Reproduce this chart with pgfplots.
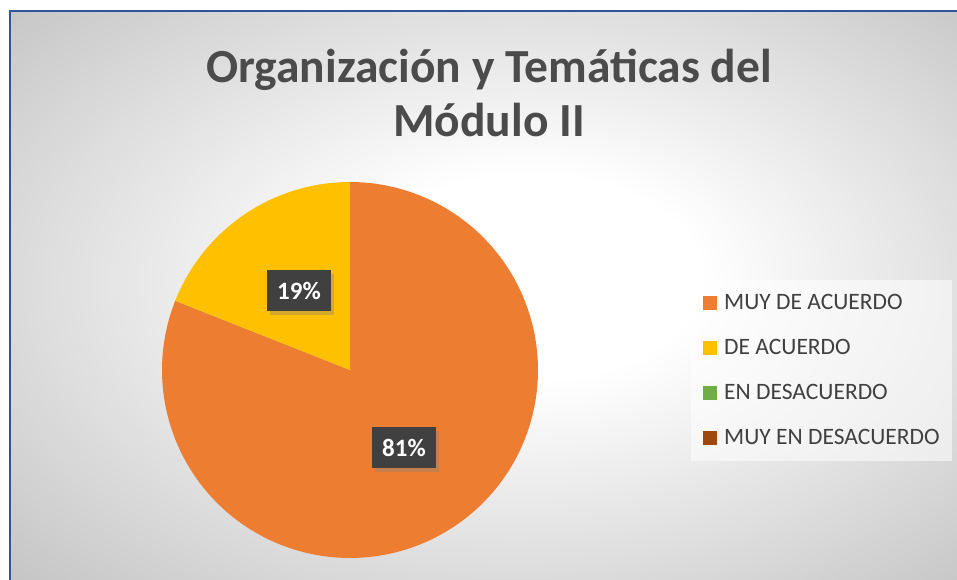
\documentclass[border=0pt]{standalone}
\usepackage{pgfplots}
\pgfplotsset{compat=1.18}
\usepackage{pgfplotstable}
\usepackage{fontspec}
\setmainfont{Carlito}
\usetikzlibrary{shadows}

\definecolor{muyacuerdo}{HTML}{ED7D31}
\definecolor{acuerdo}{HTML}{FFC000}
\definecolor{desacuerdo}{HTML}{70AD47}
\definecolor{muydes}{HTML}{9E480E}
\definecolor{bordeblue}{HTML}{2F5597}
\definecolor{bggray}{RGB}{198,198,198}
\definecolor{titlegray}{RGB}{75,75,75}
\definecolor{legendgray}{RGB}{64,64,64}
\definecolor{labelbox}{RGB}{64,64,64}

\pgfdeclareradialshading{bgshade}{\pgfpoint{3bp}{2bp}}{color(0bp)=(white); color(9bp)=(white); color(36bp)=(bggray); color(50bp)=(bggray)}

\pgfplotstableread{
cat value
1 81
2 19
3 0
4 0
}\piedata
\pgfplotstablegetelem{0}{value}\of\piedata \let\va\pgfplotsretval
\pgfplotstablegetelem{1}{value}\of\piedata \let\vb\pgfplotsretval
\pgfmathsetmacro\cumA{\va}
\pgfmathsetmacro\cumB{\va+\vb}

\begin{document}
\begin{tikzpicture}
\useasboundingbox (0,0) rectangle (957pt,580pt);
\fill[white] (0,0) rectangle (957pt,580pt);
\shade[shading=bgshade] (11pt,0) rectangle (957pt,568pt);
\draw[bordeblue, line width=2pt] (10pt,0) -- (10pt,569pt) -- (957pt,569pt);
\begin{axis}[
  at={(0,0)}, anchor=south west,
  x=1pt, y=1pt, xmin=0, xmax=957, ymin=0, ymax=580,
  scale only axis, hide axis, clip=false,
  legend cell align=left,
  legend image code/.code={\fill[#1, draw=none, fill opacity=1] (0pt,-7pt) rectangle (14pt,7pt);},
  legend style={at={(axis cs:691,300)}, anchor=north west, draw=none,
    fill=white, fill opacity=0.55, text opacity=1,
    font=\fontsize{23.5}{28}\selectfont, text=legendgray,
    inner xsep=12pt, inner ysep=12pt, row sep=23pt,
    nodes={inner sep=0pt, text height=17pt, text depth=5pt},
    /tikz/every odd column/.append style={column sep=7pt}},
]
\addplot[draw=none, fill=muyacuerdo, domain=0:\cumA, samples=150, forget plot]
  ({350+188*cos(90-3.6*x)},{210+188*sin(90-3.6*x)}) -- (axis cs:350,210) -- cycle;
\addplot[draw=none, fill=acuerdo, domain=\cumA:\cumB, samples=60, forget plot]
  ({350+188*cos(90-3.6*x)},{210+188*sin(90-3.6*x)}) -- (axis cs:350,210) -- cycle;

\addlegendimage{fill=muyacuerdo}
\addlegendentry{MUY DE ACUERDO}
\addlegendimage{fill=acuerdo}
\addlegendentry{DE ACUERDO}
\addlegendimage{fill=desacuerdo}
\addlegendentry{EN DESACUERDO}
\addlegendimage{fill=muydes}
\addlegendentry{MUY EN DESACUERDO}

\node[fill=labelbox, text=white, font=\bfseries\fontsize{25}{30}\selectfont,
  minimum width=64pt, minimum height=41pt, inner sep=0pt,
  drop shadow={shadow xshift=3pt, shadow yshift=-4pt, opacity=0.35}]
  at (axis cs:299,289) {19\%};
\node[fill=labelbox, text=white, font=\bfseries\fontsize{25}{30}\selectfont,
  minimum width=64pt, minimum height=41pt, inner sep=0pt,
  drop shadow={shadow xshift=3pt, shadow yshift=-4pt, opacity=0.35}]
  at (axis cs:404,132) {81\%};

\node[anchor=base, font=\bfseries\fontsize{47.5}{54}\selectfont, text=titlegray]
  at (axis cs:489,497) {Organización y Temáticas del};
\node[anchor=base, font=\bfseries\fontsize{47.5}{54}\selectfont, text=titlegray]
  at (axis cs:489,443) {Módulo II};
\end{axis}
\end{tikzpicture}
\end{document}
